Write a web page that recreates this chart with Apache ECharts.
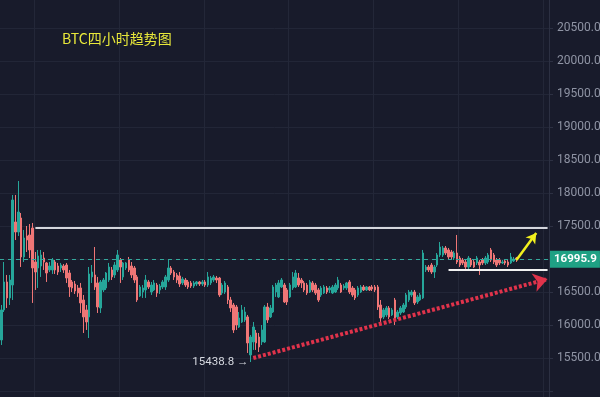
<!DOCTYPE html>
<html>
<head>
<meta charset="utf-8">
<title>BTC四小时趋势图</title>
<script src="https://cdn.jsdelivr.net/npm/echarts@6/dist/echarts.min.js"></script>
<style>
html, body { margin: 0; padding: 0; background: #181b2b; }
#main { width: 600px; height: 397px; }
</style>
</head>
<body>
<div id="main"></div>
<script>
// 四小时K线：开盘 / 收盘 / 最低 / 最高
var openData = [
	15773, 16228, 16652, 16410, 16606, 17561, 17409, 17621, 17031, 17349,
	17364, 17470, 16955, 16864, 16894, 17015, 16940, 16834, 16834, 16955,
	16894, 16864, 16894, 16909, 16788, 16652, 16621, 16561, 16561, 16379,
	16228, 16122, 16728, 16758, 16637, 16258, 16531, 16561, 16682, 16834,
	16758, 16834, 16985, 16728, 16864, 16985, 16894, 16864, 16728, 16440,
	16500, 16531, 16652, 16500, 16531, 16606, 16531, 16576, 16576, 16682,
	16864, 16803, 16758, 16743, 16637, 16682, 16652, 16637, 16591, 16621,
	16652, 16621, 16652, 16606, 16637, 16682, 16712, 16712, 16485, 16500,
	16576, 16379, 16303, 16273, 15970, 16046, 16076, 16122, 15546, 15743,
	15879, 15818, 15743, 15743, 16273, 16122, 16197, 16500, 16425, 16576,
	16606, 16531, 16425, 16561, 16576, 16712, 16682, 16637, 16606, 16500,
	16637, 16606, 16531, 16455, 16485, 16561, 16531, 16485, 16500, 16561,
	16606, 16561, 16561, 16652, 16561, 16531, 16455, 16500, 16576, 16531,
	16576, 16576, 16576, 16576, 16303, 16122, 16152, 16258, 16152, 16379,
	16122, 16182, 16197, 16273, 16379, 16455, 16500, 16349, 16379, 16410,
	16834, 16879, 16909, 16803, 16909, 17061, 17061, 17167, 17137, 17106,
	17015, 17091, 17015, 16985, 16955, 16879, 16985, 16955, 16940, 16955,
	16985, 16940, 16955, 17137, 17061, 16985, 16985, 16940, 16970, 16955,
	16940, 16970, 17015
];
var closeData = [
	16228, 16652, 16410, 16682, 17894, 17409, 17712, 17031, 17318, 17288,
	17137, 16864, 16803, 17046, 17061, 16955, 16788, 16894, 16985, 16834,
	16803, 16909, 16834, 16712, 16576, 16561, 16515, 16485, 16334, 16122,
	16046, 16773, 16803, 16576, 16273, 16652, 16682, 16788, 16879, 16728,
	16909, 17061, 16879, 16940, 16940, 16834, 16758, 16682, 16379, 16576,
	16561, 16682, 16576, 16606, 16637, 16485, 16591, 16652, 16728, 16864,
	16788, 16728, 16682, 16621, 16697, 16606, 16576, 16591, 16637, 16652,
	16621, 16652, 16606, 16728, 16712, 16728, 16682, 16455, 16606, 16637,
	16379, 16258, 15925, 16000, 16106, 16228, 16197, 15728, 15818, 15970,
	15728, 15667, 15925, 16273, 16076, 16258, 16576, 16606, 16637, 16682,
	16349, 16349, 16606, 16728, 16788, 16606, 16637, 16531, 16485, 16652,
	16531, 16485, 16379, 16561, 16576, 16500, 16561, 16576, 16606, 16682,
	16500, 16591, 16637, 16500, 16455, 16410, 16561, 16576, 16531, 16576,
	16531, 16546, 16531, 16273, 16106, 16228, 16258, 16122, 16228, 16106,
	16197, 16258, 16303, 16455, 16500, 16500, 16334, 16425, 16455, 17091,
	16879, 16834, 16803, 16879, 17061, 17182, 17167, 17091, 17031, 17031,
	17091, 16955, 16909, 16940, 16879, 17015, 16909, 16879, 17015, 16909,
	16940, 17015, 17061, 16985, 16955, 16909, 16940, 16955, 16940, 16909,
	17031, 17000, 16995.9
];
var lowData = [
	15697, 16197, 16258, 16303, 16379, 17288, 17349, 16879, 16955, 17106,
	17015, 16334, 16531, 16561, 16728, 16834, 16652, 16803, 16773, 16773,
	16758, 16803, 16788, 16637, 16425, 16500, 16470, 16425, 16182, 15879,
	15925, 15803, 16637, 16531, 16182, 16182, 16500, 16531, 16652, 16682,
	16712, 16803, 16637, 16682, 16834, 16803, 16712, 16637, 16349, 16425,
	16410, 16410, 16546, 16455, 16515, 16425, 16470, 16546, 16531, 16652,
	16758, 16682, 16637, 16576, 16606, 16576, 16546, 16561, 16561, 16591,
	16591, 16591, 16576, 16576, 16606, 16652, 16637, 16425, 16455, 16470,
	16318, 16197, 15879, 15925, 15955, 16031, 16046, 15576, 15438.8, 15622,
	15622, 15591, 15697, 15728, 16031, 16106, 16182, 16425, 16410, 16561,
	16334, 16303, 16410, 16531, 16561, 16576, 16561, 16500, 16455, 16485,
	16500, 16455, 16349, 16425, 16470, 16470, 16485, 16470, 16485, 16531,
	16485, 16531, 16531, 16470, 16425, 16379, 16425, 16485, 16515, 16515,
	16515, 16515, 16500, 16228, 16046, 16091, 16122, 16091, 16137, 16000,
	16091, 16152, 16182, 16243, 16349, 16425, 16303, 16318, 16364, 16394,
	16803, 16803, 16773, 16712, 16879, 17031, 17031, 17061, 17000, 17000,
	16985, 16924, 16879, 16909, 16849, 16849, 16879, 16864, 16909, 16758,
	16909, 16909, 16924, 16955, 16924, 16879, 16909, 16924, 16909, 16879,
	16924, 16955, 16955
];
var highData = [
	16303, 16955, 16758, 16758, 17970, 17970, 18182, 17697, 17440, 17500,
	17530, 17546, 17106, 17137, 17137, 17106, 16955, 16955, 17015, 16985,
	16940, 16940, 16924, 16940, 16834, 16682, 16667, 16606, 16637, 16455,
	16303, 16879, 16909, 17182, 16728, 16682, 16712, 16803, 16940, 16879,
	16955, 17137, 17015, 16955, 16955, 17031, 16955, 16894, 16758, 16606,
	16606, 16758, 16682, 16652, 16682, 16637, 16621, 16682, 16758, 16985,
	16894, 16834, 16788, 16803, 16728, 16712, 16682, 16667, 16667, 16667,
	16667, 16682, 16682, 16803, 16743, 16758, 16743, 16728, 16637, 16667,
	16606, 16425, 16334, 16303, 16197, 16303, 16273, 16152, 15849, 16046,
	15925, 15879, 16000, 16303, 16334, 16303, 16606, 16637, 16682, 16712,
	16637, 16561, 16637, 16803, 16834, 16788, 16712, 16667, 16637, 16682,
	16667, 16637, 16561, 16591, 16606, 16591, 16591, 16606, 16637, 16728,
	16637, 16621, 16652, 16682, 16591, 16561, 16591, 16606, 16606, 16591,
	16591, 16606, 16606, 16606, 16379, 16258, 16288, 16288, 16258, 16410,
	16228, 16288, 16334, 16485, 16531, 16531, 16531, 16455, 16485, 17137,
	16909, 16909, 16940, 16909, 17091, 17258, 17197, 17197, 17167, 17137,
	17121, 17364, 17046, 17015, 16985, 17046, 17015, 16985, 17046, 16985,
	17015, 17046, 17091, 17167, 17091, 17015, 17015, 16985, 17000, 16985,
	17091, 17031, 17031
];
// 价格轴刻度
var yMin = 14500, yMax = 21000, yStep = 500;
// 标注的价位
var lastPrice = 16995.9;
var lowPrice = 15438.8, lowIndex = 88;
var resistPrice = 17480;
var supportPrice = 16834;
var trendStart = [89, 15500], trendEnd = [193, 16697];
var breakStart = [182, 16985], breakEnd = [189, 17394];
var slotCount = 194; // K线之后留空几根，给箭头用

var categories = [];
for (var i = 0; i < slotCount; i++) {
	categories.push('K' + i);
}
var candleData = [];
for (var j = 0; j < openData.length; j++) {
	candleData.push([openData[j], closeData[j], lowData[j], highData[j]]);
}

var upColor = '#26a69a';
var downColor = '#ef7676';

var myChart = echarts.init(document.getElementById('main'));
var option = {
	backgroundColor: '#181b2b',
	animation: false,
	title: {
		text: 'BTC四小时趋势图',
		left: 57,
		top: 27,
		textStyle: {
			color: '#e8e83a',
			fontSize: 14,
			fontWeight: 'normal',
			fontFamily: 'Noto Sans CJK SC'
		}
	},
	grid: {
		left: 0,
		right: 51,
		top: -5,
		bottom: -27,
		outerBoundsMode: 'none',
		containLabel: false
	},
	xAxis: {
		type: 'category',
		data: categories,
		boundaryGap: true,
		axisLine: {show: false},
		axisTick: {show: false},
		axisLabel: {show: false},
		splitLine: {
			show: true,
			interval: function(index) {
				return index >= 12 && (index - 12) % 30 === 0;
			},
			lineStyle: {color: '#232738', width: 1}
		}
	},
	yAxis: {
		type: 'value',
		position: 'right',
		min: yMin,
		max: yMax,
		interval: yStep,
		scale: true,
		axisLine: {show: true, lineStyle: {color: '#2c3042'}},
		axisTick: {show: true, length: 4, lineStyle: {color: '#2c3042'}},
		axisLabel: {
			color: '#8f94a4',
			fontSize: 12,
			fontFamily: 'Roboto',
			margin: 8,
			formatter: function(v) {
				if (v < 15500 || v > 20500) return '';
				return v.toFixed(1);
			}
		},
		splitLine: {lineStyle: {color: '#222637', width: 1}}
	},
	series: [{
		type: 'candlestick',
		data: candleData,
		barWidth: 2,
		itemStyle: {
			color: upColor,
			color0: downColor,
			borderColor: upColor,
			borderColor0: downColor,
			borderWidth: 1
		},
		markPoint: {
			symbol: 'circle',
			symbolSize: 0,
			data: [{
				coord: [lowIndex, lowPrice],
				label: {
					show: true,
					position: 'left',
					distance: 2,
					formatter: lowPrice.toFixed(1) + ' →',
					color: '#d6d9e0',
					fontSize: 11.5,
					fontFamily: 'Roboto'
				}
			}]
		},
		markLine: {
			silent: true,
			symbol: 'none',
			animation: false,
			data: [
				// 现价虚线
				{
					yAxis: lastPrice,
					lineStyle: {color: '#34a89c', type: [4, 4], width: 1},
					label: {
						show: true,
						position: 'end',
						distance: 1,
						formatter: lastPrice.toFixed(1),
						color: '#ffffff',
						fontWeight: 'bold',
						fontSize: 11.5,
						fontFamily: 'Roboto',
						backgroundColor: '#1fa184',
						padding: [3, 3, 2, 4]
					}
				},
				// 压力线
				[
					{coord: [12, resistPrice], lineStyle: {color: '#d4d6dc', width: 2, type: 'solid'}, label: {show: false}},
					{coord: [slotCount - 1, resistPrice]}
				],
				// 支撑线
				[
					{coord: [158, supportPrice], lineStyle: {color: '#f2f2f2', width: 2, type: 'solid'}, label: {show: false}},
					{coord: [slotCount - 1, supportPrice]}
				],
				// 上升趋势线
				[
					{coord: trendStart, symbol: 'none', lineStyle: {color: '#e0334b', width: 4, type: [3, 2]}, label: {show: false}},
					{coord: trendEnd, symbol: 'arrow', symbolSize: [14, 14]}
				],
				// 突破方向
				[
					{coord: breakStart, symbol: 'none', lineStyle: {color: '#f2f01e', width: 2.5, type: 'solid'}, label: {show: false}},
					{coord: breakEnd, symbol: 'arrow', symbolSize: [9, 10]}
				]
			]
		}
	}]
};
myChart.setOption(option);
</script>
</body>
</html>
